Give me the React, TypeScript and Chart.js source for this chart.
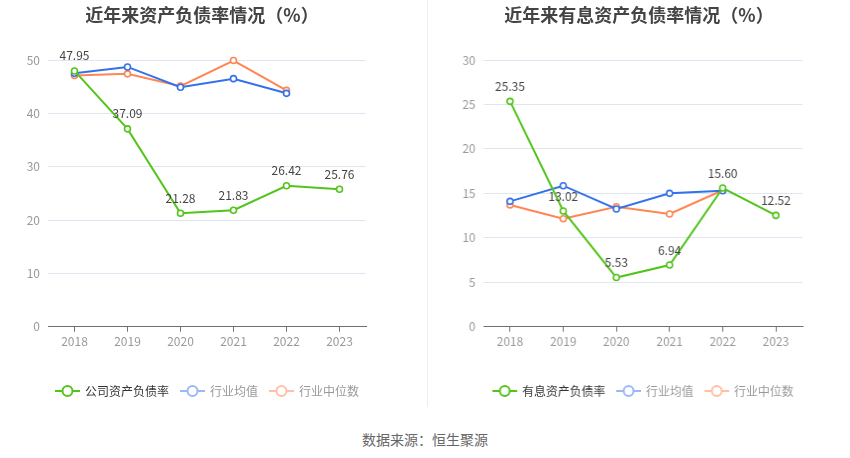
import React, { useEffect, useRef } from "react";
import { Chart, registerables } from "chart.js";

Chart.register(...registerables);

const years = ["2018", "2019", "2020", "2021", "2022", "2023"];

const leftTitle = "近年来资产负债率情况（%）";
const leftNames = ["公司资产负债率", "行业均值", "行业中位数"];
const leftCompany = [47.95, 37.09, 21.28, 21.83, 26.42, 25.76];
const leftAvg = [47.5, 48.7, 44.9, 46.5, 43.75, null];
const leftMedian = [47.1, 47.4, 45.1, 49.9, 44.3, null];
const leftTicks = { max: 50, step: 10 };

const rightTitle = "近年来有息资产负债率情况（%）";
const rightNames = ["有息资产负债率", "行业均值", "行业中位数"];
const rightCompany = [25.35, 13.02, 5.53, 6.94, 15.6, 12.52];
const rightAvg = [14.1, 15.86, 13.24, 15.0, 15.3, null];
const rightMedian = [13.7, 12.15, 13.5, 12.68, 15.35, null];
const rightTicks = { max: 30, step: 5 };

const sourceText = "数据来源：恒生聚源";

const GREEN = "#52c41a";
const BLUE = "#3370eb";
const ORANGE = "#ff8552";
const LEGEND_COLORS = ["#52c41a", "#9ab8f5", "#ffc0a6"];
const LEGEND_TEXT = ["#333333", "#999999", "#999999"];
const FONT = "'Noto Sans CJK SC', 'Noto Sans', sans-serif";

const labelPlugin = {
  id: "valueLabels",
  afterDatasetsDraw(chart: any) {
    const meta = chart.getDatasetMeta(0);
    const data = chart.data.datasets[0].data as number[];
    const ctx = chart.ctx;
    ctx.save();
    ctx.font = `12px ${FONT}`;
    ctx.fillStyle = "#444";
    ctx.textAlign = "center";
    ctx.textBaseline = "middle";
    meta.data.forEach((pt: any, i: number) => {
      if (data[i] == null) return;
      ctx.fillText(data[i].toFixed(2), pt.x, pt.y - 15);
    });
    ctx.restore();
  },
};

const legendPlugin = {
  id: "lineLegend",
  afterDraw(chart: any) {
    const ctx = chart.ctx;
    const area = chart.chartArea;
    const y = 391;
    ctx.save();
    ctx.font = `12px ${FONT}`;
    const items = chart.data.datasets.map((ds: any, i: number) => ({
      text: ds.label as string,
      w: ctx.measureText(ds.label).width,
      color: LEGEND_COLORS[i],
      textColor: LEGEND_TEXT[i],
    }));
    const gap = 11;
    let total = 0;
    items.forEach((it: any, i: number) => {
      total += 30 + it.w + (i < items.length - 1 ? gap : 0);
    });
    let x = (area.left + area.right) / 2 - total / 2;
    items.forEach((it: any) => {
      ctx.strokeStyle = it.color;
      ctx.lineWidth = 2;
      ctx.beginPath();
      ctx.moveTo(x, y);
      ctx.lineTo(x + 25, y);
      ctx.stroke();
      ctx.beginPath();
      ctx.arc(x + 12.5, y, 5, 0, Math.PI * 2);
      ctx.fillStyle = "#fff";
      ctx.fill();
      ctx.stroke();
      ctx.fillStyle = it.textColor;
      ctx.textAlign = "left";
      ctx.textBaseline = "middle";
      ctx.fillText(it.text, x + 30, y);
      x += 30 + it.w + gap;
    });
    ctx.restore();
  },
};

type Props = {
  names: string[];
  company: number[];
  avg: (number | null)[];
  median: (number | null)[];
  ticks: { max: number; step: number };
  yWidth: number;
  rightPad: number;
};

function LineChart({ names, company, avg, median, ticks, yWidth, rightPad }: Props) {
  const ref = useRef<HTMLCanvasElement | null>(null);
  useEffect(() => {
    if (!ref.current) return;
    const mk = (label: string, data: any[], color: string) => ({
      label,
      data,
      borderColor: color,
      backgroundColor: color,
      borderWidth: 2,
      pointRadius: 3,
      pointBorderWidth: 1.6,
      pointBackgroundColor: "#fff",
      pointBorderColor: color,
      tension: 0,
      spanGaps: false,
      clip: false,
    });
    const chart = new Chart(ref.current, {
      type: "line",
      data: {
        labels: years,
        datasets: [
          mk(names[0], company, GREEN),
          mk(names[1], avg, BLUE),
          mk(names[2], median, ORANGE),
        ],
      },
      options: {
        animation: false,
        responsive: false,
        devicePixelRatio: 1,
        layout: { padding: { left: 0, top: 60, right: rightPad, bottom: 50.3 } },
        plugins: {
          tooltip: { enabled: false },
          title: { display: false },
          legend: { display: false },
        },
        scales: {
          x: {
            type: "category",
            offset: true,
            afterFit: (s: any) => {
              s.height = 30;
            },
            grid: {
              display: true,
              drawOnChartArea: false,
              drawTicks: true,
              tickLength: 5,
              offset: false,
              color: "#6e7079",
            },
            border: { display: true, color: "#6e7079", width: 1 },
            ticks: {
              color: "#999",
              font: { size: 12, family: FONT },
              padding: 3,
              maxRotation: 0,
            },
          },
          y: {
            min: 0,
            max: ticks.max,
            afterFit: (s: any) => {
              s.width = yWidth;
            },
            grid: { color: "#e0e6f1", drawTicks: false, lineWidth: 1 },
            border: { display: false },
            ticks: {
              stepSize: ticks.step,
              color: "#999",
              padding: 8,
              font: { size: 12, family: FONT },
            },
          },
        },
      },
      plugins: [labelPlugin, legendPlugin],
    });
    return () => chart.destroy();
  }, []);
  return <canvas ref={ref} width={427} height={407} style={{ width: "100%", height: "100%", display: "block" }} />;
}

export default function App() {
  return (
    <div style={{ position: "absolute", left: 0, top: 0, width: 850, height: 458, background: "#fff", fontFamily: FONT }}>
      <div style={{ position: "absolute", left: 0, top: 0, width: 427, height: 407 }}>
        <LineChart names={leftNames} company={leftCompany} avg={leftAvg} median={leftMedian} ticks={leftTicks} yWidth={48} rightPad={61} />
      </div>
      <div style={{ position: "absolute", left: 427, top: 0, width: 423, height: 407 }}>
        <LineChart names={rightNames} company={rightCompany} avg={rightAvg} median={rightMedian} ticks={rightTicks} yWidth={57} rightPad={48} />
      </div>
      <div style={{ position: "absolute", left: 427, top: 0, width: 1, height: 407, background: "#eeeeee" }} />
      <div style={{ position: "absolute", left: 202 - 150, top: 2, width: 300, textAlign: "center", fontSize: 18, fontWeight: "bold", color: "#444", lineHeight: "24px" }}>
        {leftTitle}
      </div>
      <div style={{ position: "absolute", left: 639 - 160, top: 2, width: 320, textAlign: "center", fontSize: 18, fontWeight: "bold", color: "#444", lineHeight: "24px" }}>
        {rightTitle}
      </div>
      <div style={{ position: "absolute", left: 325, top: 429, width: 200, textAlign: "center", fontSize: 14, color: "#666", lineHeight: "20px" }}>
        {sourceText}
      </div>
    </div>
  );
}
